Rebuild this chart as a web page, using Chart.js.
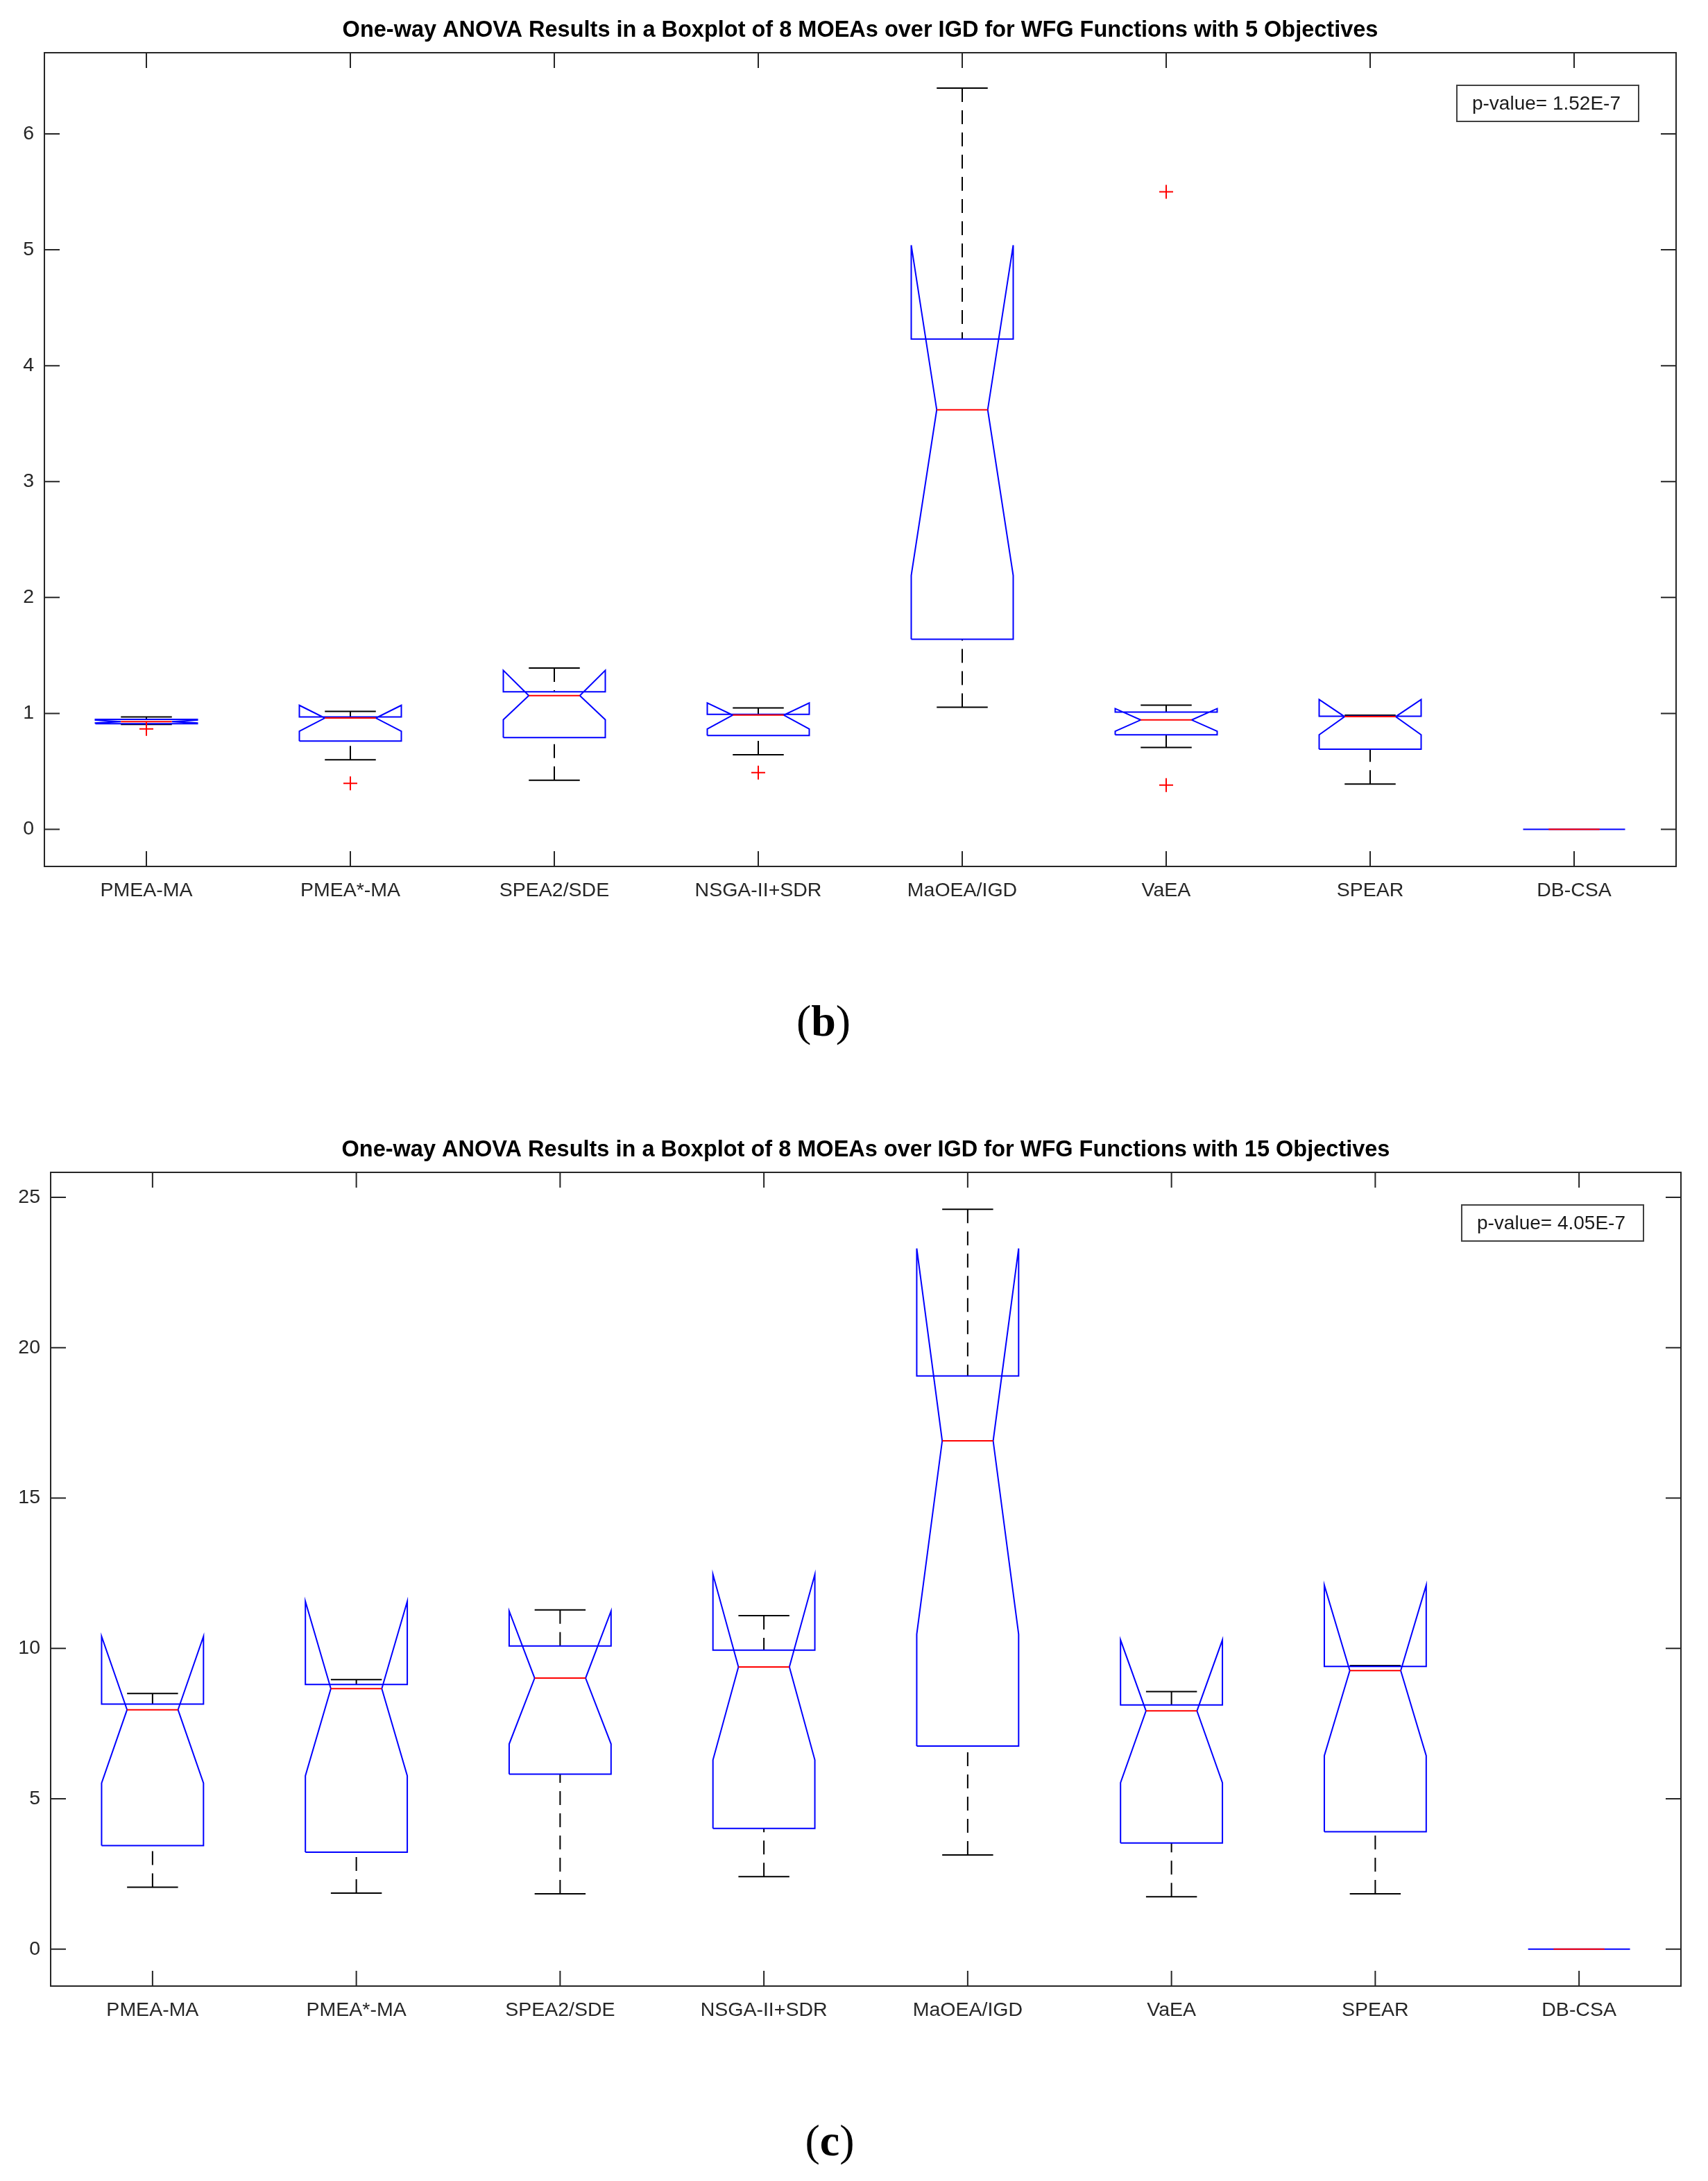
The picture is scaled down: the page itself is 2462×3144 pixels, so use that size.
<!DOCTYPE html>
<html>
<head>
<meta charset="utf-8">
<script src="https://cdn.jsdelivr.net/npm/chart.js@4.4.0/dist/chart.umd.min.js"></script>
<style>
  body { margin: 0; background: #fff; width: 2462px; height: 3144px; position: relative; overflow: hidden; }
  .wrap { position: absolute; left: 0; width: 2462px; height: 1330px; }
  .cap { position: absolute; width: 400px; text-align: center; line-height: 1; font-family: 'Liberation Serif', 'DejaVu Serif', serif; font-size: 64px; color: #000; }
</style>
</head>
<body>
<div class="wrap" style="top:0"><canvas id="chart-b" width="2462" height="1330"></canvas></div>
<div class="cap" style="top:1440px; left:987px">(<b>b</b>)</div>
<div class="wrap" style="top:1614px"><canvas id="chart-c" width="2462" height="1330"></canvas></div>
<div class="cap" style="top:3054px; left:996px">(<b>c</b>)</div>
<script>
var methods = ['PMEA-MA', 'PMEA*-MA', 'SPEA2/SDE', 'NSGA-II+SDR', 'MaOEA/IGD', 'VaEA', 'SPEAR', 'DB-CSA']

// WFG, 5 objectives
var titleB = 'One-way ANOVA Results in a Boxplot of 8 MOEAs over IGD for WFG Functions with 5 Objectives'
var pvalB = 'p-value= 1.52E-7'
var yTicksB = [0, 1, 2, 3, 4, 5, 6]
var yLimB = [-0.32, 6.70]
var lowB   = [0.905, 0.60, 0.424, 0.644, 1.054, 0.706, 0.39, 0]
var q1B    = [0.912, 0.762, 0.792, 0.81, 1.64, 0.816, 0.692, 0]
var nloB   = [0.918, 0.846, 0.946, 0.866, 2.19, 0.846, 0.816, 0]
var medB   = [0.93, 0.96, 1.154, 0.986, 3.62, 0.944, 0.972, 0]
var nhiB   = [0.942, 1.07, 1.372, 1.09, 5.04, 1.042, 1.12, 0]
var q3B    = [0.948, 0.97, 1.186, 0.992, 4.23, 1.012, 0.975, 0]
var highB  = [0.97, 1.018, 1.392, 1.048, 6.395, 1.072, 0.985, 0]
var outB   = [[0.866], [0.396], [], [0.49], [], [5.50, 0.382], [], []]

// WFG, 15 objectives
var titleC = 'One-way ANOVA Results in a Boxplot of 8 MOEAs over IGD for WFG Functions with 15 Objectives'
var pvalC = 'p-value= 4.05E-7'
var yTicksC = [0, 5, 10, 15, 20, 25]
var yLimC = [-1.23, 25.83]
var lowC   = [2.06, 1.86, 1.84, 2.41, 3.13, 1.74, 1.84, 0]
var q1C    = [3.44, 3.22, 5.82, 4.01, 6.75, 3.53, 3.90, 0]
var nloC   = [5.52, 5.76, 6.82, 6.29, 10.47, 5.53, 6.43, 0]
var medC   = [7.96, 8.66, 9.01, 9.38, 16.90, 7.92, 9.26, 0]
var nhiC   = [10.40, 11.56, 11.24, 12.46, 23.30, 10.28, 12.10, 0]
var q3C    = [8.15, 8.80, 10.08, 9.94, 19.06, 8.12, 9.40, 0]
var highC  = [8.50, 8.96, 11.28, 11.09, 24.60, 8.56, 9.43, 0]
var outC   = [[], [], [], [], [], [], [], []]

// box geometry in x units (MATLAB defaults)
var boxHalf = 0.25, notchIn = 0.125, capHalf = 0.125

function buildDatasets(low, q1, nlo, med, nhi, q3, high, outs) {
    var box = [], mid = [], whisk = [], caps = [], pts = []
    for (var i = 0; i < methods.length; i++) {
        var x = i + 1, l = x - boxHalf, r = x + boxHalf
        box.push({x: l, y: q1[i]}, {x: l, y: nlo[i]}, {x: l + notchIn, y: med[i]}, {x: l, y: nhi[i]}, {x: l, y: q3[i]},
                 {x: r, y: q3[i]}, {x: r, y: nhi[i]}, {x: r - notchIn, y: med[i]}, {x: r, y: nlo[i]}, {x: r, y: q1[i]},
                 {x: l, y: q1[i]}, {x: x, y: null})
        mid.push({x: l + notchIn, y: med[i]}, {x: r - notchIn, y: med[i]}, {x: x, y: null})
        if (high[i] > q3[i]) whisk.push({x: x, y: high[i]}, {x: x, y: q3[i]}, {x: x, y: null})
        if (low[i] < q1[i]) whisk.push({x: x, y: low[i]}, {x: x, y: q1[i]}, {x: x, y: null})
        if (high[i] > low[i]) {
            caps.push({x: x - capHalf, y: high[i]}, {x: x + capHalf, y: high[i]}, {x: x, y: null})
            caps.push({x: x - capHalf, y: low[i]}, {x: x + capHalf, y: low[i]}, {x: x, y: null})
        }
        outs[i].forEach(v => pts.push({x: x, y: v}))
    }
    var line = {showLine: true, pointRadius: 0, borderWidth: 2, fill: false, tension: 0, spanGaps: false}
    return [
        {label: 'outliers', data: pts, showLine: false, pointStyle: 'cross', pointRadius: 10,
            borderColor: '#ff0000', borderWidth: 2, order: 1},
        Object.assign({}, line, {label: 'median', data: mid, borderColor: '#ff0000', order: 2}),
        Object.assign({}, line, {label: 'box', data: box, borderColor: '#0000ff', order: 3}),
        Object.assign({}, line, {label: 'caps', data: caps, borderColor: '#000000', order: 4}),
        Object.assign({}, line, {label: 'whiskers', data: whisk, borderColor: '#000000', borderDash: [20, 12], order: 5})
    ]
}

// axes box with inward ticks on all sides, plus the p-value note
var matlabFrame = {
    id: 'matlabFrame',
    afterDatasetsDraw(chart, args, opts) {
        var ctx = chart.ctx, a = chart.chartArea, xs = chart.scales.x, ys = chart.scales.y
        ctx.save()
        ctx.strokeStyle = '#262626'
        ctx.lineWidth = 2
        ctx.beginPath()
        xs.ticks.forEach(t => {
            var px = xs.getPixelForValue(t.value)
            ctx.moveTo(px, a.bottom); ctx.lineTo(px, a.bottom - 22)
            ctx.moveTo(px, a.top); ctx.lineTo(px, a.top + 22)
        })
        ys.ticks.forEach(t => {
            var py = ys.getPixelForValue(t.value)
            ctx.moveTo(a.left, py); ctx.lineTo(a.left + 22, py)
            ctx.moveTo(a.right, py); ctx.lineTo(a.right - 22, py)
        })
        ctx.stroke()
        ctx.strokeRect(a.left, a.top, a.right - a.left, a.bottom - a.top)

        ctx.font = '28px "Liberation Sans", Arial, sans-serif'
        var w = ctx.measureText(opts.text).width + 48, h = 52
        var bx = a.right - 54 - w, by = a.top + 47
        ctx.fillStyle = '#ffffff'
        ctx.fillRect(bx, by, w, h)
        ctx.strokeStyle = '#404040'
        ctx.strokeRect(bx, by, w, h)
        ctx.fillStyle = '#1a1a1a'
        ctx.textBaseline = 'middle'
        ctx.textAlign = 'left'
        ctx.fillText(opts.text, bx + 22, by + h / 2 + 1)
        ctx.restore()
    }
}

function makeChart(id, title, pval, yTicks, yLim, yAxisWidth, rightPad, datasets) {
    var tickFont = {family: '"Liberation Sans", Arial, sans-serif', size: 28.5}
    var ctx = document.getElementById(id).getContext('2d')
    return new Chart(ctx, {
        type: 'scatter',
        data: {datasets: datasets},
        plugins: [matlabFrame],
        options: {
            responsive: false,
            animation: false,
            layout: {padding: {left: 0, right: rightPad, top: 0, bottom: 21}},
            scales: {
                x: {
                    type: 'linear', min: 0.5, max: 8.5,
                    afterBuildTicks: s => { s.ticks = methods.map((m, i) => ({value: i + 1})) },
                    afterFit: s => { s.height = 60 },
                    grid: {display: false, drawTicks: false},
                    border: {display: false},
                    ticks: {callback: v => methods[v - 1], font: tickFont, color: '#262626', padding: 18, maxRotation: 0, autoSkip: false}
                },
                y: {
                    type: 'linear', min: yLim[0], max: yLim[1],
                    afterBuildTicks: s => { s.ticks = yTicks.map(v => ({value: v})) },
                    afterFit: s => { s.width = yAxisWidth },
                    grid: {display: false, drawTicks: false},
                    border: {display: false},
                    ticks: {font: tickFont, color: '#262626', padding: 15}
                }
            },
            plugins: {
                legend: {display: false},
                tooltip: {enabled: false},
                title: {
                    display: true,
                    fullSize: false,
                    text: title,
                    color: '#000000',
                    font: {family: '"Liberation Sans", Arial, sans-serif', size: 32.5, weight: 'bold'},
                    padding: {top: 25, bottom: 12}
                },
                matlabFrame: {text: pval}
            }
        }
    })
}

makeChart('chart-b', titleB, pvalB, yTicksB, yLimB, 64, 46,
    buildDatasets(lowB, q1B, nloB, medB, nhiB, q3B, highB, outB))
makeChart('chart-c', titleC, pvalC, yTicksC, yLimC, 73, 39,
    buildDatasets(lowC, q1C, nloC, medC, nhiC, q3C, highC, outC))
</script>
</body>
</html>
